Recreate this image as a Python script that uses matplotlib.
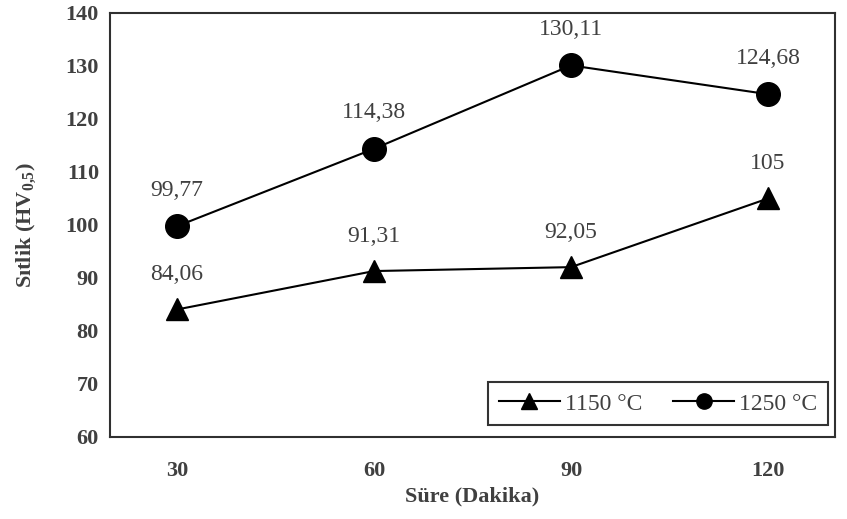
import numpy as np
import matplotlib
matplotlib.use('Agg')
import matplotlib.pyplot as plt

plt.rc('font', family='Liberation Serif')
plt.rc('mathtext', fontset='custom', rm='Liberation Serif', bf='Liberation Serif:bold',
       it='Liberation Serif:italic')

# data
sure = ['30', '60', '90', '120']
hv_1150 = [84.06, 91.31, 92.05, 105]
hv_1250 = [99.77, 114.38, 130.11, 124.68]
lbl_1150 = ['84,06', '91,31', '92,05', '105']
lbl_1250 = ['99,77', '114,38', '130,11', '124,68']

txt = '#404040'

fig = plt.figure(figsize=(8.47, 5.19), dpi=100)
ax = fig.add_axes([110/847, 1-437/519, (835-110)/847, (437-13)/519])

x = np.arange(len(sure))
ax.plot(x, hv_1150, color='black', lw=1.5, marker='^', ms=16, label='1150 °C')
ax.plot(x, hv_1250, color='black', lw=1.5, marker='o', ms=17, label='1250 °C')

for xi, yi, s in zip(x, hv_1150, lbl_1150):
    ax.annotate(s, (xi, yi), xytext=(0, 25), textcoords='offset points',
                ha='center', va='center', fontsize=17, color=txt)
for xi, yi, s in zip(x, hv_1250, lbl_1250):
    ax.annotate(s, (xi, yi), xytext=(0, 26), textcoords='offset points',
                ha='center', va='center', fontsize=17, color=txt)

ax.set_xlim(-0.34, 3.34)
ax.set_ylim(60, 140)
ax.set_yticks(np.arange(60, 141, 10))
ax.set_xticks(x)
ax.set_xticklabels(sure)
ax.tick_params(axis='both', length=0, labelsize=16, colors=txt)
ax.tick_params(axis='x', pad=17)
ax.tick_params(axis='y', pad=8)
for t in ax.get_xticklabels() + ax.get_yticklabels():
    t.set_fontweight('bold')

for sp in ax.spines.values():
    sp.set_color('#303030')
    sp.set_linewidth(1.5)

ax.set_xlabel('Süre (Dakika)', fontsize=16, fontweight='bold', color=txt, labelpad=4)
ax.set_ylabel(r'Sıtlik (HV$_\mathbf{0{,}5}$)', fontsize=16, fontweight='bold', color=txt,
              labelpad=20)

leg = ax.legend(loc='lower right', bbox_to_anchor=(0.99, 0.028), ncol=2, fontsize=17,
                frameon=True, fancybox=False, edgecolor='black', handlelength=2.6,
                handletextpad=0.2, columnspacing=1.3, borderaxespad=0, borderpad=0.45,
                labelcolor=txt)
leg.get_frame().set_linewidth(1.5)
for h in leg.legend_handles:
    h.set_markersize(11)

fig.savefig('out.png', dpi=100)
